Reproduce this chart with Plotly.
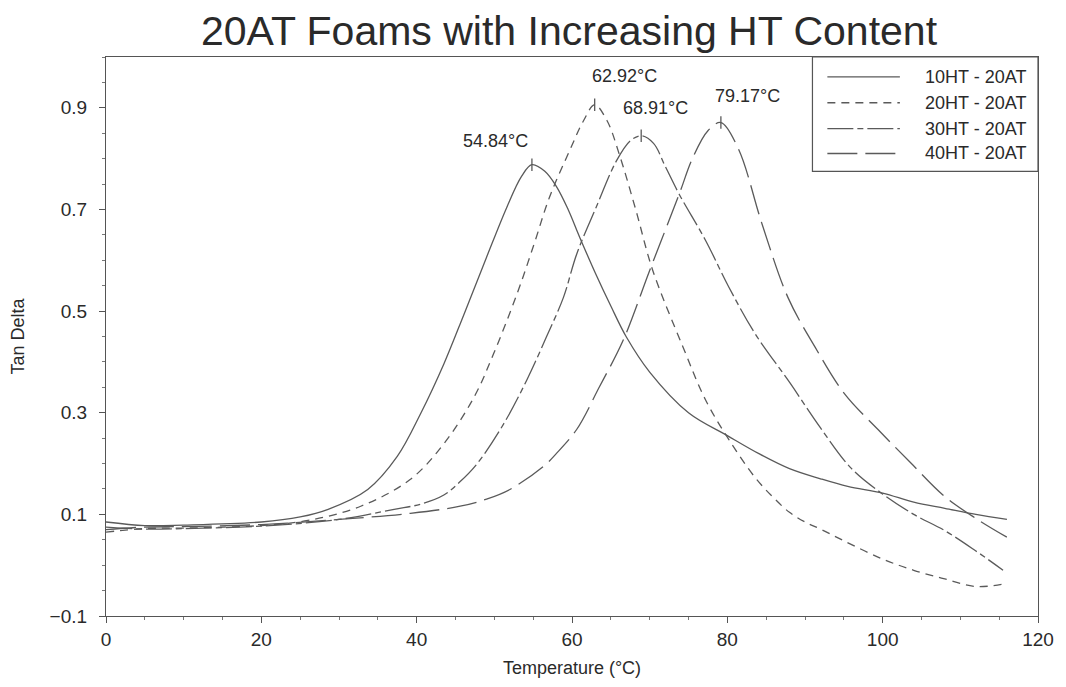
import plotly.graph_objects as go

# Tan delta vs temperature for 20AT foams with increasing HT content
series_names = ["10HT - 20AT", "20HT - 20AT", "30HT - 20AT", "40HT - 20AT"]

temp_10ht = [0, 5, 10, 20, 25, 28.6, 33.7, 37.5, 40.5, 43.5, 46.1, 49.0, 51.6, 53.5, 54.84,
             56.5, 58, 59.5, 61, 63, 65, 67, 70, 75, 80, 84, 88, 92, 95.5, 100, 104, 108, 112, 116]
tand_10ht = [0.085, 0.078, 0.079, 0.085, 0.095, 0.11, 0.149, 0.214, 0.298, 0.396, 0.494, 0.606, 0.704, 0.765, 0.788,
             0.775, 0.745, 0.70, 0.645, 0.575, 0.51, 0.449, 0.38, 0.30, 0.255, 0.22, 0.19, 0.17, 0.155, 0.142, 0.124, 0.112, 0.10, 0.09]

temp_20ht = [0, 5, 10, 20, 26, 32.8, 39.2, 43.5, 47.4, 49.9, 52.9, 55.1, 57.1, 59.7, 61.5, 62.92,
             64.5, 66.1, 68.2, 70.4, 74.3, 77.2, 80.2, 83.6, 86, 88, 90, 92, 95, 100, 104, 108, 112, 116]
tand_20ht = [0.065, 0.072, 0.073, 0.078, 0.088, 0.116, 0.169, 0.239, 0.331, 0.416, 0.533, 0.631, 0.724, 0.816, 0.875, 0.906,
             0.875, 0.808, 0.70, 0.58, 0.429, 0.325, 0.247, 0.172, 0.132, 0.104, 0.085, 0.071, 0.048, 0.012, -0.01, -0.027, -0.042, -0.036]

temp_30ht = [0, 5, 10, 20, 30, 37.1, 40.5, 43.5, 45.5, 47.8, 51.2, 54.2, 56.7, 58.9, 60.6, 63.1, 65.7, 67.5, 68.91,
             70.5, 72, 73.8, 77.2, 80.2, 83.6, 88, 92, 96, 100, 104, 108, 112, 115.5]
tand_30ht = [0.075, 0.071, 0.072, 0.077, 0.09, 0.11, 0.12, 0.138, 0.163, 0.20, 0.278, 0.365, 0.449, 0.527, 0.612, 0.704, 0.795, 0.835, 0.845,
             0.83, 0.785, 0.73, 0.639, 0.547, 0.455, 0.36, 0.27, 0.19, 0.14, 0.10, 0.068, 0.028, -0.01]

temp_40ht = [0, 5, 10, 20, 30, 39.2, 45.6, 49, 52, 56.3, 58, 60.6, 63.5, 66.6, 70, 73.8, 75.5, 77.5, 79.17,
             81.4, 84.5, 87.8, 91.3, 95.1, 99.4, 103.7, 108, 112.2, 116]
tand_40ht = [0.07, 0.075, 0.076, 0.08, 0.09, 0.102, 0.116, 0.13, 0.149, 0.194, 0.22, 0.267, 0.35, 0.443, 0.58, 0.73, 0.80, 0.855, 0.871,
             0.82, 0.67, 0.527, 0.429, 0.337, 0.267, 0.20, 0.135, 0.09, 0.055]

peak_temps = [54.84, 62.92, 68.91, 79.17]
peak_values = [0.788, 0.906, 0.845, 0.871]
peak_labels = ["54.84°C", "62.92°C", "68.91°C", "79.17°C"]

temps = [temp_10ht, temp_20ht, temp_30ht, temp_40ht]
tands = [tand_10ht, tand_20ht, tand_30ht, tand_40ht]
dashes = ["solid", "8px,6px", "26px,4px,6px,4px", "30px,8px"]

LINE = "#5a5a5a"
INK = "#2a2a2a"
FONT = "Liberation Sans, Arial, sans-serif"

fig = go.Figure()
for name, t, v, d in zip(series_names, temps, tands, dashes):
    fig.add_trace(go.Scatter(x=t, y=v, mode="lines", name=name, line_shape="spline",
                             line=dict(color=LINE, width=1.3, dash=d), showlegend=False))

# small tick marks at each peak
fig.add_trace(go.Scatter(x=peak_temps, y=peak_values, mode="markers", showlegend=False,
                         marker=dict(symbol="line-ns", size=9, line=dict(color=LINE, width=1.3))))

# peak labels, offset so they do not overlap
offsets = [("right", -2, 12), ("left", -5, 17), ("center", 14, 16), ("center", 27, 15)]
for t, v, lab, (anc, dx, dy) in zip(peak_temps, peak_values, peak_labels, offsets):
    fig.add_annotation(x=t, y=v, text=lab, showarrow=False, xanchor=anc, yanchor="bottom",
                       xshift=dx, yshift=dy, font=dict(size=18, color=INK, family=FONT))

# boxed legend in the top-right corner of the plot area
PL, PR, PT, PB = 106, 1044, 57, 619
def px_x(p):
    return (p - PL) / (PR - PL)
def px_y(p):
    return (PB - p) / (PB - PT)

fig.add_shape(type="rect", xref="paper", yref="paper", x0=px_x(817), x1=1.0, y0=px_y(172), y1=1.0,
              line=dict(color="#555", width=1.2), fillcolor="white", layer="above")
row_y = [77, 103, 129, 154]
for name, d, ry in zip(series_names, dashes, row_y):
    fig.add_shape(type="line", xref="paper", yref="paper", x0=px_x(832), x1=px_x(905),
                  y0=px_y(ry), y1=px_y(ry), line=dict(color=LINE, width=1.3, dash=d), layer="above")
    fig.add_annotation(xref="paper", yref="paper", x=px_x(1034), y=px_y(ry), text=name, showarrow=False,
                       xanchor="right", yanchor="middle", font=dict(size=18, color=INK, family=FONT))

axis_common = dict(showline=True, linecolor="#555", linewidth=1.2, mirror=True, showgrid=False,
                   zeroline=False, ticks="outside", ticklen=6, tickcolor="#555", tickwidth=1,
                   tickfont=dict(size=19, color=INK, family=FONT))

fig.update_xaxes(range=[0, 120], tick0=0, dtick=20,
                 minor=dict(dtick=5, ticks="outside", ticklen=3, tickcolor="#777"),
                 title=dict(text="Temperature (°C)", font=dict(size=18, color=INK, family=FONT), standoff=12),
                 **axis_common)
fig.update_yaxes(range=[-0.1, 1.0], tick0=-0.1, dtick=0.2, tickformat=".1f",
                 minor=dict(dtick=0.05, ticks="outside", ticklen=3, tickcolor="#777"),
                 title=dict(text="Tan Delta", font=dict(size=18, color=INK, family=FONT), standoff=20),
                 ticklabelstandoff=8, **axis_common)

fig.update_layout(
    width=1066, height=687,
    margin=dict(l=PL, r=1066 - PR, t=PT, b=687 - PB),
    paper_bgcolor="white", plot_bgcolor="white",
    title=dict(text="20AT Foams with Increasing HT Content", x=569 / 1066, xref="container",
               xanchor="center", y=1 - 31 / 687, yanchor="middle",
               font=dict(size=41, color=INK, family=FONT)),
    showlegend=False,
)

fig.write_html("out.html")
